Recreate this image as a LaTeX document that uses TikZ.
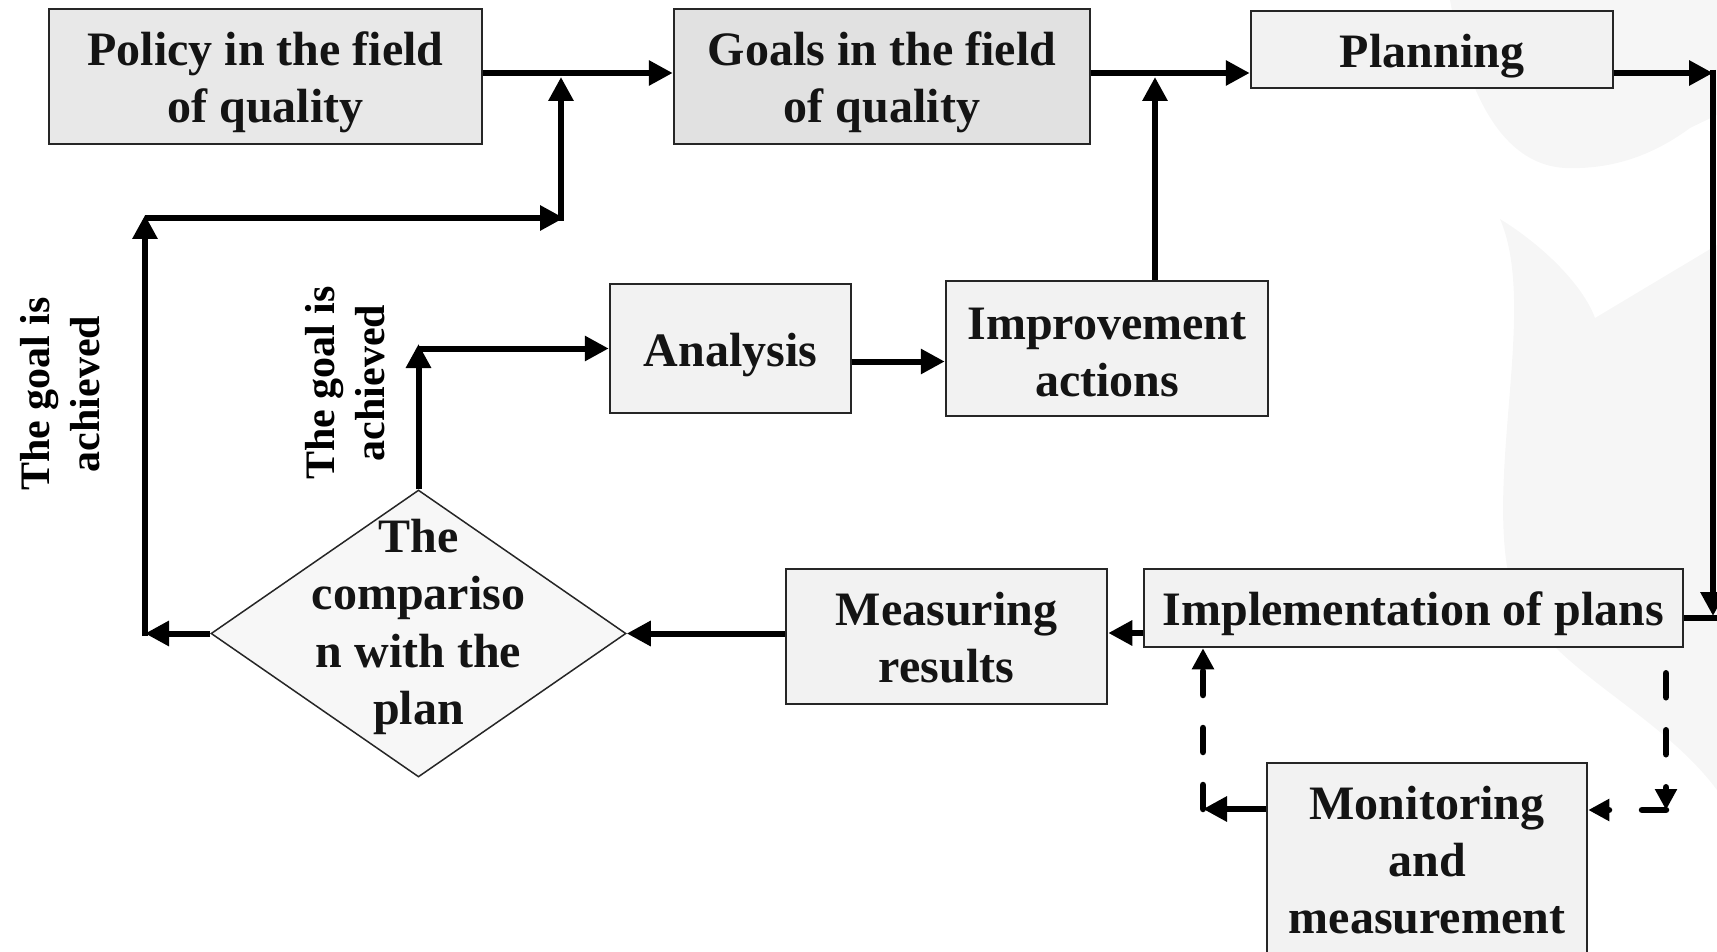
\documentclass[tikz,border=0pt]{standalone}
\usepackage{fontspec}
\setmainfont{Liberation Serif}
\usetikzlibrary{arrows.meta,shapes.geometric,calc}
\definecolor{cpol}{HTML}{E8E8E8}
\definecolor{cgoal}{HTML}{E1E1E1}
\definecolor{cbox}{HTML}{F2F2F2}
\definecolor{cdia}{HTML}{F7F7F7}
\definecolor{cwm}{HTML}{F6F6F6}
\newcommand\boxfont{\fontsize{48}{57}\selectfont\bfseries}
\newcommand\diafont{\fontsize{48}{57.5}\selectfont\bfseries}
\newcommand\labfont{\fontsize{42}{50}\selectfont\bfseries}
\newcommand\dn[1]{\rule{0pt}{#1}}
\newcommand\upz[1]{\rule[-#1]{0pt}{#1}}
\begin{document}
\begin{tikzpicture}[x=1pt,y=-1pt,
  box/.style={draw=black!85, line width=2.5pt, fill=#1, inner sep=0pt,
    align=center, font=\boxfont, text=black!92},
  lab/.style={rotate=90, align=center, font=\labfont, inner sep=0pt},
  arr/.style={line width=6pt, -{Triangle[length=24pt,width=24pt]}},
  darr/.style={line width=6.5pt, line cap=round, dash pattern=on 24pt off 33pt,
    -{Triangle[length=21pt,width=21pt]}},
  plain/.style={line width=6pt}]
\useasboundingbox (0,0) rectangle (1717,952);
\clip (0,0) rectangle (1717,952);
% faint watermark
\fill[cwm] (1450,0) .. controls (1470,110) and (1510,165) .. (1565,168)
  .. controls (1620,170) and (1660,150) .. (1690,128) -- (1717,115) -- (1717,0) -- cycle;
\fill[cwm] (1500,219) .. controls (1550,250) and (1585,290) .. (1595,318)
  -- (1717,245) -- (1717,790) .. controls (1650,700) and (1520,660) .. (1506,560)
  .. controls (1492,450) and (1535,300) .. (1500,219) -- cycle;
% boxes
\node[box=cpol, minimum width=433pt, minimum height=135pt] (policy) at (265.5,76.5) {\dn{45pt}Policy in the field\\of quality};
\node[box=cgoal, minimum width=416pt, minimum height=135pt] (goals) at (882,76.5) {\dn{45pt}Goals in the field\\of quality};
\node[box=cbox, minimum width=362pt, minimum height=77pt] (planning) at (1432,49.5) {\dn{47.5pt}Planning};
\node[box=cbox, minimum width=241pt, minimum height=129pt] (analysis) at (730.5,348.5) {\dn{45.5pt}Analysis};
\node[box=cbox, minimum width=322pt, minimum height=135pt] (improve) at (1107,348.5) {\dn{38.5pt}Improvement\\actions};
\node[box=cbox, minimum width=321pt, minimum height=135pt] (measure) at (946.5,636.5) {\dn{35.5pt}Measuring\\results};
\node[box=cbox, minimum width=539pt, minimum height=78pt] (impl) at (1413.5,608) {\dn{45.5pt}Implementation of plans};
\node[box=cbox, minimum width=320pt, minimum height=212pt] (monitor) at (1427,869) {Monitoring\\and\\measurement\upz{18pt}};
\node[diamond, draw=black!85, line width=1.5pt, fill=cdia, minimum width=415pt,
  minimum height=287pt, inner sep=0pt] (cmp) at (418.5,633.5) {};
\node[align=center, font=\diafont, text=black!92, inner sep=0pt] (cmptext) at (418.5,627) {The\\compariso\\n with the\\plan};
% side labels
\node[lab] (lab1) at (60.5,394) {The goal is\\achieved};
\node[lab] (lab2) at (345,383) {The goal is\\achieved};
% junction and corner coordinates
\coordinate (j1) at (561,77);
\coordinate (j2) at (1155,77);
\coordinate (c1) at (418.5,344);
\coordinate (c3) at (145,633.5);
\coordinate (c4) at (145,215);
\coordinate (c5) at (564,218);
\coordinate (r1) at (1713,73);
\coordinate (r2) at (1713,616);
\coordinate (r3) at (1717,618);
\coordinate (m1) at (1203,809);
\coordinate (m2) at (1666,810);
% main flow
\draw[arr] ([yshift=3.5pt]policy.east) -- ([yshift=3.5pt]goals.west);
\draw[arr] ([yshift=3.5pt]goals.east) -- ([yshift=3.5pt]goals.east -| planning.west);
\draw[arr] (planning.east |- r1) -- (r1);
\draw[arr] (1713,70) -- (r2);
\draw[plain] (impl.east |- r3) -- (r3);
\draw[arr] ([yshift=-25pt]impl.west) -- ([yshift=-25pt]impl.west -| measure.east);
\draw[arr] (measure.west |- cmp.east) -- (cmp.east);
% improvement loop
\draw[arr] (cmp.north) -- (c1);
\draw[arr] (c1 |- analysis.west) -- (analysis.west);
\draw[arr] ([yshift=-13pt]analysis.east) -- ([yshift=-13pt]analysis.east -| improve.west);
\draw[arr] (improve.north -| j2) -- (j2);
% goal achieved loop
\draw[arr] (cmp.west) -- (c3);
\draw[arr] (145,636) -- (c4);
\draw[arr] (145,218) -- (c5);
\draw[arr] (561,221) -- (j1);
% monitoring loop
\draw[arr] (m1 -| monitor.west) -- (m1);
\draw[darr] (m1) -- (m1 |- impl.south);
\draw[darr, dash phase=32pt] (m2 |- impl.south) -- (m2);
\draw[darr] (m2) -- (m2 -| monitor.east);
\end{tikzpicture}
\end{document}
